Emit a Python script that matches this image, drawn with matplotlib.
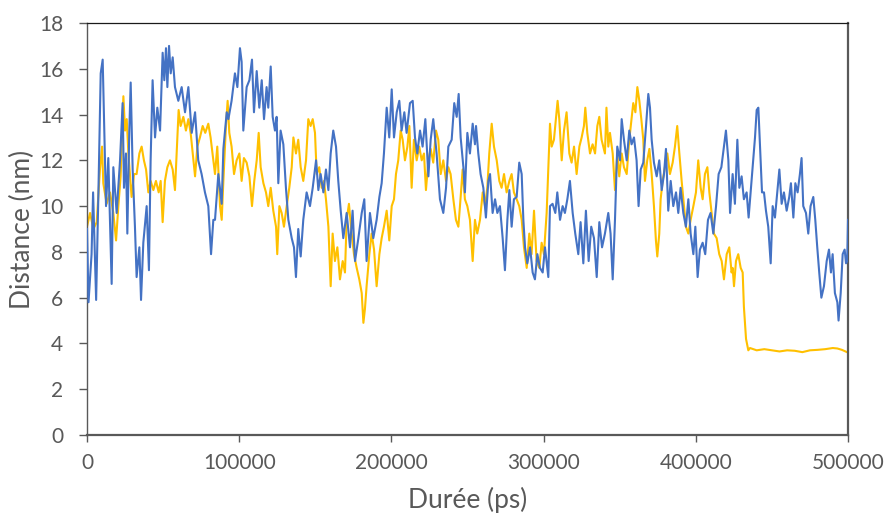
import matplotlib
matplotlib.use("Agg")
import matplotlib.pyplot as plt
import numpy as np

# distance vs time (time in ps, distance in nm)
blue = [
    (0, 9.0), (1000, 5.8), (3000, 7.9), (4000, 10.6), (6000, 5.9), (7500, 10.6), (9000, 15.8),
    (10300, 16.4), (11200, 13.8), (12500, 10.0), (14000, 12.1), (16200, 6.6), (17300, 11.7),
    (19500, 9.7), (21700, 12.0), (23400, 14.5), (24300, 10.8), (25600, 12.3), (26500, 8.8),
    (27800, 13.3), (28700, 15.4), (30000, 11.6), (31500, 9.1), (32600, 6.9), (34400, 8.2),
    (35500, 5.9), (37000, 8.4), (39200, 10.0), (40700, 7.2), (41800, 12.0), (43100, 15.5),
    (44700, 13.0), (46200, 14.3), (48000, 13.3), (49700, 16.7), (50800, 15.5), (51900, 16.9),
    (52800, 15.2), (53900, 17.0), (55000, 15.8), (56300, 16.5), (57800, 15.2), (60000, 14.6),
    (62200, 15.2), (64400, 14.1), (66600, 15.2), (68800, 13.2), (71000, 14.1), (73100, 12.0),
    (75300, 11.4), (77500, 10.6), (79700, 10.0), (81500, 7.9), (83000, 9.4),
    (84100, 9.4), (86300, 11.4), (88500, 10.1), (89600, 12.5), (91800, 14.1), (92900, 13.8),
    (95000, 14.6), (97200, 15.8), (98800, 15.2), (100500, 16.9), (101600, 16.3), (102700, 13.3),
    (104900, 15.2), (106700, 15.5), (108400, 16.4), (109700, 14.1), (111500, 15.9), (113200, 14.3),
    (114800, 15.5), (116300, 13.8), (118000, 15.2), (119100, 14.3), (120700, 16.1), (122000, 13.9),
    (123500, 13.3), (124600, 13.9), (125700, 11.0), (127200, 13.3), (129000, 12.7), (130700, 10.8),
    (132300, 9.4), (134500, 8.6), (136000, 8.2), (137300, 6.9), (138800, 9.0), (140400, 7.8),
    (142100, 9.4), (144300, 10.6), (146500, 10.0), (148300, 10.8), (150500, 12.0), (152000, 10.7),
    (153500, 11.4), (155300, 10.6), (157000, 11.6), (158600, 10.7), (160100, 12.3), (161800, 13.3),
    (163600, 12.6), (165100, 11.1), (166700, 9.8), (168400, 8.6),
    (170600, 9.7), (172800, 8.2), (174500, 9.8), (176100, 7.6), (178300, 8.6), (180500, 9.7),
    (182200, 10.3), (183700, 7.6), (185900, 9.7), (188100, 8.6), (190300, 9.4), (192100, 10.4),
    (193600, 11.0), (195100, 12.3), (196900, 14.3), (198600, 13.0), (200200, 15.1), (201700, 13.0),
    (203500, 14.1), (205200, 14.6), (206700, 13.3), (208500, 14.1), (210000, 13.2), (212200, 14.5),
    (214000, 14.6), (215500, 13.0), (217000, 12.3), (218800, 13.3), (220500, 12.6), (222300, 13.8),
    (224300, 11.3), (225800, 12.9), (227500, 13.8), (229700, 12.3), (231900, 10.3), (234100, 9.7),
    (235900, 10.8), (237400, 12.6), (239600, 12.9), (241300, 14.5), (242900, 13.9), (244200, 14.9),
    (245500, 13.0), (247300, 11.7), (248300, 10.6), (249900, 13.2), (251600, 12.3), (253400, 13.6),
    (254900, 12.7),
    (255600, 13.5), (257100, 12.3), (258600, 11.4), (260400, 10.8), (262100, 9.5), (263700, 11.1),
    (264800, 11.4), (266500, 9.7), (268100, 10.3), (269600, 9.7), (271300, 10.0), (273100, 8.6),
    (274600, 7.2), (276200, 9.4), (277500, 10.7), (279000, 9.1), (280500, 10.3), (282300, 10.4),
    (284000, 11.9), (285600, 11.4), (286700, 9.4), (287800, 8.2), (289300, 7.5), (291100, 8.2),
    (292800, 7.1), (294300, 6.8), (295900, 7.9), (297600, 7.3), (299400, 7.1), (300900, 8.2),
    (303100, 6.9), (304200, 10.0), (305900, 10.1), (307700, 9.7), (309000, 10.6), (310800, 9.4),
    (312500, 10.0), (314000, 9.7), (315600, 10.3), (317300, 11.1), (319100, 9.7), (320800, 8.8),
    (322800, 7.9), (324300, 9.3), (326100, 7.5), (327800, 9.8), (329600, 7.6), (331300, 9.1),
    (333100, 8.6), (334900, 6.9), (336600, 9.3), (338400, 8.2), (340300, 8.8),
    (342500, 9.7), (344000, 8.8), (345400, 6.8), (346900, 9.4), (348400, 12.6), (350200, 12.0),
    (351300, 13.8), (352800, 12.9), (354600, 12.0), (356300, 13.3), (357800, 12.7), (359400, 13.0),
    (361100, 12.0), (362400, 10.0), (363800, 11.6), (365500, 11.9), (367300, 13.5), (368800, 14.9),
    (369900, 14.3), (371000, 12.9), (372500, 11.9), (374300, 11.3), (376000, 12.0), (377600, 10.7),
    (379100, 11.4), (380400, 12.5), (381900, 9.8), (383500, 11.1), (385200, 10.0), (387000, 10.6),
    (388500, 9.7), (390000, 10.8), (391800, 9.7), (393500, 9.1), (395100, 10.3), (396600, 8.8),
    (398400, 7.9), (399700, 9.1), (401200, 6.9), (402700, 8.1), (404500, 8.4), (406200, 7.9),
    (408000, 9.4), (409700, 9.7), (411500, 8.8), (413300, 10.0), (415000, 11.4), (416800, 11.7),
    (418500, 12.6), (419800, 13.3), (421400, 12.0), (422500, 9.7), (424200, 11.4),
    (425700, 10.1), (427300, 12.9), (428600, 10.8), (430100, 11.3), (431600, 10.3), (433400, 10.6),
    (434700, 9.5), (436000, 10.6), (437300, 11.7), (438900, 13.0), (440000, 14.2), (441100, 14.3),
    (442200, 12.6), (443500, 10.6), (444800, 10.6), (446100, 9.8), (447600, 9.1), (449200, 7.5),
    (450500, 10.0), (452000, 9.5), (453500, 10.6), (454900, 11.6), (456400, 10.1), (457900, 10.6),
    (459700, 9.8), (461400, 10.4), (462500, 11.0), (464100, 9.5), (465400, 11.0), (466900, 10.6),
    (468400, 11.4), (469500, 12.1), (470600, 10.0), (472400, 9.7), (473900, 8.8), (475400, 10.0),
    (477200, 10.4), (478500, 9.4), (479800, 8.2), (481100, 7.1), (482500, 6.0), (484200, 6.5),
    (486000, 7.6), (487500, 8.1), (488800, 7.1), (489900, 7.9), (491400, 6.2), (493000, 5.8),
    (493800, 5.0), (495200, 6.2), (496500, 7.9), (497800, 8.1), (498700, 7.5), (499500, 7.6),
    (500000, 9.4),
]

yellow = [
    (0, 9.1), (2000, 9.7), (4200, 9.0), (6400, 9.3), (8500, 11.6), (9900, 12.6), (10700, 11.0),
    (12900, 10.1), (15100, 10.6), (17300, 9.7), (19100, 8.5), (20600, 10.0), (22100, 11.3),
    (23900, 14.8), (25000, 13.3), (26100, 13.8), (27200, 12.3), (28300, 11.3), (29300, 10.4),
    (30900, 11.4), (32600, 11.4), (34400, 12.3), (35900, 12.6), (37400, 12.0), (38800, 11.6),
    (40300, 10.6), (41800, 11.1), (43600, 10.7), (45300, 11.1), (47100, 10.6), (48400, 11.1),
    (49700, 9.3), (51200, 11.1), (52800, 11.7), (54500, 12.0), (56300, 11.6), (57800, 10.7),
    (59300, 12.9), (60200, 14.2), (61500, 13.5), (63300, 13.9), (65000, 13.3), (66600, 13.8),
    (68100, 13.2), (69900, 12.0), (71000, 11.3), (72500, 12.6), (74200, 13.0), (76000, 13.5),
    (77700, 13.2), (79700, 13.6), (81200, 13.0), (83000, 12.0),
    (84100, 11.4), (85600, 12.6), (87400, 10.0), (88500, 9.4), (89600, 11.1), (91300, 13.5),
    (92400, 14.6), (93500, 13.2), (95000, 12.6), (96600, 11.4), (98300, 12.0), (100100, 12.3),
    (101600, 11.1), (103100, 12.1), (104900, 11.9), (106700, 11.3), (108400, 10.0), (109900, 11.1),
    (111500, 12.0), (112800, 13.2), (114100, 11.7), (115900, 11.0), (117600, 10.6), (119100, 10.0),
    (120700, 10.8), (122400, 9.8), (124200, 9.1), (125000, 7.9), (126400, 10.0), (127900, 9.7),
    (129400, 9.1), (131200, 10.0), (132900, 10.8), (134500, 11.7), (135600, 13.0), (137300, 12.3),
    (138800, 12.9), (140400, 11.7), (142100, 11.1), (143900, 12.0), (145400, 13.8), (146900, 13.5),
    (148300, 13.8), (149800, 13.2), (150900, 11.4), (152600, 11.7), (154200, 10.8), (155700, 11.1),
    (157000, 10.3), (158600, 9.1), (160100, 6.5), (161400, 8.8), (162900, 7.6), (164500, 8.2),
    (166200, 6.8), (168000, 7.6), (169500, 7.1),
    (170600, 9.4), (172100, 10.1), (173900, 8.8), (175400, 7.9), (177200, 7.3), (178900, 6.8),
    (180500, 6.2), (181600, 4.9), (182600, 5.5), (183700, 6.5), (185500, 7.9), (187000, 8.8),
    (188600, 8.1), (190300, 6.5), (192100, 7.9), (193600, 8.6), (195100, 9.1), (196900, 9.8),
    (198600, 8.5), (200200, 10.0), (201700, 10.3), (203000, 11.4), (204500, 12.0), (206100, 13.3),
    (207400, 12.9), (208900, 12.0), (210500, 12.6), (211800, 13.5), (213300, 10.8), (214800, 12.9),
    (216600, 12.0), (218300, 12.6), (219900, 12.0), (221400, 12.3), (222700, 10.7), (224300, 12.0),
    (225800, 12.5), (227500, 11.9), (229300, 13.3), (230800, 12.9), (232400, 11.4), (234100, 12.0),
    (235900, 11.1), (237400, 11.7), (238900, 11.4), (240700, 10.3), (242400, 9.4), (244000, 9.1),
    (245500, 10.4), (246800, 11.6), (248300, 10.3), (249900, 10.0), (251600, 9.4), (253400, 7.6),
    (254900, 9.4),
    (256400, 8.8), (258200, 9.4), (260000, 10.6), (261500, 10.0), (263000, 10.8), (264300, 12.3),
    (265900, 13.6), (267400, 12.6), (269200, 12.0), (270900, 11.1), (272400, 10.8), (274000, 11.4),
    (275700, 10.6), (277500, 11.1), (279000, 11.4), (280500, 10.6), (282300, 10.3), (284000, 10.0),
    (285600, 9.4), (287100, 8.2), (288900, 7.3), (290600, 8.8), (292100, 7.9), (293700, 9.8),
    (295400, 7.6), (297200, 7.3), (298700, 8.4), (300200, 7.9), (302000, 9.7), (303100, 11.7),
    (304200, 13.6), (305300, 12.6), (306800, 12.9), (308100, 13.8), (309200, 14.6), (310300, 13.8),
    (311900, 12.0), (313400, 13.3), (315100, 14.1), (316900, 12.3), (318400, 11.9), (320000, 12.6),
    (321700, 11.4), (323500, 12.6), (325000, 13.0), (326500, 13.5), (327400, 14.3), (328700, 13.2),
    (330500, 12.3), (332200, 12.7), (333800, 12.3), (335300, 13.5), (336600, 13.9), (338100, 12.9),
    (340300, 12.3), (341300, 14.3),
    (342500, 12.6), (343600, 13.2), (345400, 12.3), (346900, 10.7), (348400, 12.3), (349700, 11.3),
    (351300, 12.3), (352800, 11.7), (354600, 11.4), (356300, 12.9), (357800, 13.8), (358900, 14.5),
    (360300, 14.1), (361600, 15.2), (362900, 14.6), (364200, 13.8), (365500, 12.9), (366600, 11.1),
    (368100, 12.0), (369500, 12.5), (371000, 11.4), (372500, 10.0), (373800, 8.5), (374700, 7.8),
    (376000, 8.8), (376900, 10.3), (378200, 11.1), (379700, 11.7), (381300, 12.3), (383000, 11.4),
    (384800, 11.9), (386300, 12.6), (387800, 13.5), (389200, 12.3), (390700, 11.1), (392200, 10.0),
    (393500, 9.1), (395100, 8.8), (396600, 9.4), (398400, 10.0), (400100, 10.6), (401600, 12.0),
    (403200, 10.8), (404500, 10.3), (406000, 11.4), (407600, 11.7), (408900, 10.6), (410400, 9.7),
    (411900, 8.8), (413700, 8.6), (415400, 7.9), (417000, 7.6), (418500, 6.8), (420300, 7.9),
    (422000, 8.2), (423500, 7.1), (424200, 7.3), (425100, 6.5),
    (426400, 7.6), (427900, 7.9), (429500, 7.3), (430800, 7.1), (431600, 5.6), (433000, 4.2),
    (434500, 3.7), (435600, 3.8), (440000, 3.7), (445000, 3.75), (450000, 3.7), (455000, 3.65),
    (460000, 3.7), (465000, 3.68), (470000, 3.62), (475000, 3.7), (480000, 3.72), (485000, 3.75),
    (490000, 3.8), (493000, 3.78), (496000, 3.72), (500000, 3.6),
]

x_ticks = [0, 100000, 200000, 300000, 400000, 500000]
y_ticks = [0, 2, 4, 6, 8, 10, 12, 14, 16, 18]

GREY = "#595959"
plt.rcParams["font.family"] = ["Lato", "DejaVu Sans"]

fig = plt.figure(figsize=(8.85, 5.13), dpi=100)
ax = fig.add_axes([87 / 885, 1 - 435 / 513, 761 / 885, 412 / 513])

ty, dy = np.array(yellow).T
tb, db = np.array(blue).T
ax.plot(ty, dy, color="#FFC000", lw=1.5, zorder=2)
ax.plot(tb, db, color="#4472C4", lw=1.5, zorder=3)

ax.set_xlim(0, 500000)
ax.set_ylim(0, 18)
ax.set_xticks(x_ticks)
ax.set_yticks(y_ticks)
ax.set_xticklabels([str(v) for v in x_ticks])

ax.tick_params(axis="y", direction="out", length=6, width=1, color=GREY,
               labelsize=15, labelcolor=GREY, pad=11)
ax.tick_params(axis="x", direction="out", length=5, width=1, color=GREY,
               labelsize=15, labelcolor=GREY, pad=8)

ax.spines["left"].set_color(GREY)
ax.spines["left"].set_linewidth(1.0)
ax.spines["bottom"].set_color(GREY)
ax.spines["bottom"].set_linewidth(1.6)
ax.spines["right"].set_color(GREY)
ax.spines["right"].set_linewidth(1.6)
ax.spines["top"].set_color("#1a1a1a")
ax.spines["top"].set_linewidth(0.9)

ax.set_xlabel("Durée (ps)", fontsize=19, color=GREY)
ax.set_ylabel("Distance (nm)", fontsize=19, color=GREY)
ax.xaxis.set_label_coords(0.5, (435 - 500) / 412)
ax.xaxis.label.set_va("center")
ax.yaxis.set_label_coords((22 - 87) / 761, 0.5)
ax.yaxis.label.set_va("center")

fig.savefig("out.png", dpi=100)
